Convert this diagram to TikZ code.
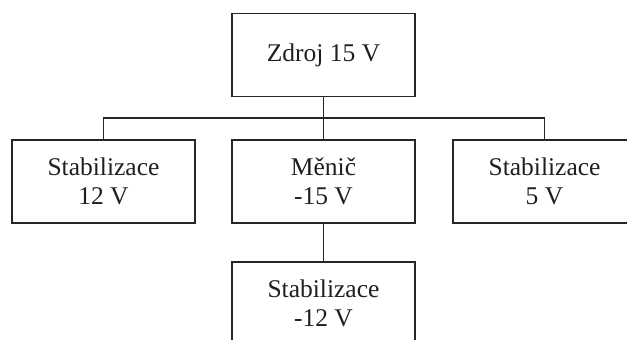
\documentclass[tikz,border=0pt]{standalone}
\usepackage{fontspec}
\setmainfont{Liberation Serif}
\tikzset{
  blk/.style={draw=black!85, line width=1.1pt, rectangle, minimum width=183pt,
    minimum height=83pt, align=center, text=black!88,
    font=\fontsize{25.5}{29}\selectfont, inner sep=0pt},
  wire/.style={draw=black!85, line width=1.1pt}
}
\begin{document}
\begin{tikzpicture}[x=1pt, y=-1pt]
  \path[use as bounding box, clip] (0,0) rectangle (627,340);
  \node[blk] (src) at (323.5,55) {Zdroj 15 V};
  \node[blk] (s12) at (103.5,181.5) {Stabilizace\\12 V};
  \node[blk] (inv) at (323.5,181.5) {Měnič\\-15 V};
  \node[blk] (s5) at (544.5,181.5) {Stabilizace\\5 V};
  \node[blk] (sm12) at (323.5,303.5) {Stabilizace\\-12 V};
  \coordinate (busL) at (103.5,118);
  \coordinate (busR) at (544.5,118);
  \draw[wire] (s12.north) -- (busL) -- (busR) -- (s5.north);
  \draw[wire] (src.south) -- (inv.north);
  \draw[wire] (inv.south) -- (sm12.north);
\end{tikzpicture}
\end{document}
